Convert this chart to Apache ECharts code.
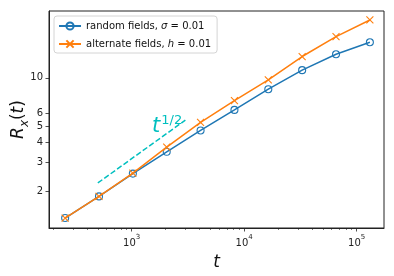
<!DOCTYPE html>
<html>
<head>
<meta charset="utf-8">
<script src="https://cdn.jsdelivr.net/npm/echarts@6/dist/echarts.min.js"></script>
<style>
html,body{margin:0;padding:0;background:#fff;}
#c{width:394px;height:276px;}
</style>
</head>
<body>
<div id="c"></div>
<script>
// ---- data ----
var times = [256, 512, 1024, 2048, 4096, 8192, 16384, 32768, 65536, 131072];
var randomVals = [1.36, 1.85, 2.56, 3.49, 4.73, 6.34, 8.51, 11.16, 14.0, 16.6];
var alternateVals = [1.36, 1.85, 2.58, 3.73, 5.30, 7.24, 9.72, 13.55, 18.0, 22.8];
var guideTimes = [500, 3000];
var guideVals = [2.24, 5.48];
var seriesNames = ['random fields, σ = 0.01', 'alternate fields, h = 0.01'];
var yTickVals = [2, 3, 4, 5, 6, 10];
var xMajorTicks = [1000, 10000, 100000];
var xMinorTicks = [200,300,400,500,600,700,800,900,2000,3000,4000,5000,6000,7000,8000,9000,20000,30000,40000,50000,60000,70000,80000,90000];

function pairs(xs, ys){ return xs.map(function(x,i){ return [x, ys[i]]; }); }

var FONT = 'DejaVu Sans';
var AX = '#222';
var chart = echarts.init(document.getElementById('c'), null, {renderer:'canvas'});
var xMin = 184, xMax = 175000, yMin = 1.18, yMax = 25.9;

chart.setOption({
  animation: false,
  backgroundColor: '#fff',
  textStyle: {fontFamily: FONT},
  grid: {left: 49, right: 10, top: 11, bottom: 48, containLabel: false, outerBoundsMode: 'none',
    show: true, borderColor: AX, borderWidth: 1, backgroundColor: 'transparent'},
  legend: {
    data: seriesNames,
    orient: 'vertical',
    left: 54, top: 16,
    padding: [5, 6, 4, 4],
    itemWidth: 22, itemHeight: 9, itemGap: 8,
    borderColor: '#d4d4d4', borderWidth: 1, borderRadius: 3,
    backgroundColor: 'rgba(255,255,255,0.85)',
    textStyle: {fontFamily: FONT, fontSize: 10, color: '#111',
      rich: {n: {fontFamily: FONT, fontSize: 10, color: '#111'}, i: {fontFamily: FONT, fontSize: 10, fontStyle: 'italic', color: '#111'}}},
    formatter: function(name){
      if (name === seriesNames[0]) return '{n|random fields, }{i|σ}{n| = 0.01}';
      return '{n|alternate fields, }{i|h}{n| = 0.01}';
    }
  },
  xAxis: [{
    type: 'log', logBase: 10, min: xMin, max: xMax, position: 'bottom',
    name: 't', nameLocation: 'middle', nameGap: 26, nameMoveOverlap: false,
    nameTextStyle: {fontFamily: FONT, fontSize: 17, fontStyle: 'italic', color: '#111'},
    axisLine: {show: true, lineStyle: {color: AX, width: 1}},
    axisTick: {show: true, length: 3.5, inside: false, lineStyle: {color: AX, width: 0.8}, customValues: xMajorTicks},
    axisLabel: {show: true, margin: 6, color: '#222', fontSize: 10, fontFamily: FONT, customValues: xMajorTicks,
      formatter: function(v){ return '{m|10}{s|' + Math.round(Math.log10(v)) + '}'; },
      rich: {m: {fontSize: 10, fontFamily: FONT, color: '#222', lineHeight: 14, verticalAlign: 'bottom'},
             s: {fontSize: 7, fontFamily: FONT, color: '#222', lineHeight: 14, verticalAlign: 'top'}}},
    splitLine: {show: false}, minorTick: {show: false}
  }, {
    type: 'log', logBase: 10, min: xMin, max: xMax, position: 'bottom',
    axisLine: {show: false},
    axisTick: {show: true, length: 2, lineStyle: {color: AX, width: 0.6}, customValues: xMinorTicks},
    axisLabel: {show: false}, splitLine: {show: false}
  }],
  yAxis: {
    type: 'log', logBase: 10, min: yMin, max: yMax,
    name: '{i|R}{sub|x}{n|(}{i|t}{n|)}', nameLocation: 'middle', nameGap: 18, nameRotate: 90, nameMoveOverlap: false,
    nameTextStyle: {fontFamily: FONT, fontSize: 17, color: '#111',
      rich: {i: {fontFamily: FONT, fontSize: 17, fontStyle: 'italic', color: '#111', lineHeight: 24, verticalAlign: 'middle'},
             n: {fontFamily: FONT, fontSize: 17, color: '#111', lineHeight: 24, verticalAlign: 'middle'},
             sub: {fontFamily: FONT, fontSize: 12, fontStyle: 'italic', color: '#111', lineHeight: 24, verticalAlign: 'bottom'}}},
    axisLine: {show: true, lineStyle: {color: AX, width: 1}},
    axisTick: {show: true, length: 3.5, lineStyle: {color: AX, width: 0.8}, customValues: yTickVals},
    axisLabel: {show: true, margin: 6, color: '#222', fontSize: 10, fontFamily: FONT, customValues: yTickVals,
      formatter: function(v){ return String(Math.round(v)); }},
    splitLine: {show: false}, minorTick: {show: false}
  },
  series: [{
    name: seriesNames[0], type: 'line', data: pairs(times, randomVals),
    symbol: 'circle', symbolSize: 7,
    lineStyle: {color: '#1f77b4', width: 1.5},
    itemStyle: {color: 'rgba(255,255,255,0)', borderColor: '#1f77b4', borderWidth: 1.1},
    z: 3
  }, {
    name: seriesNames[1], type: 'line', data: pairs(times, alternateVals),
    symbol: 'path://M0,0L10,10M10,0L0,10', symbolSize: 7,
    lineStyle: {color: '#ff7f0e', width: 1.5},
    itemStyle: {color: 'rgba(255,255,255,0)', borderColor: '#ff7f0e', borderWidth: 1.1},
    z: 4
  }, {
    name: 'guide', type: 'line', data: pairs(guideTimes, guideVals),
    symbol: 'none', lineStyle: {color: '#00bfbf', width: 1.5, type: [5.5, 2.4]}, z: 2
  }],
  graphic: [{
    type: 'text', left: 152, top: 111, z: 10,
    style: {text: '{t|t}{s|1/2}', fill: '#00bfbf',
      rich: {t: {fontFamily: FONT, fontSize: 21, fontStyle: 'italic', fill: '#00bfbf', lineHeight: 26, verticalAlign: 'bottom'},
             s: {fontFamily: FONT, fontSize: 13, fill: '#00bfbf', lineHeight: 26, verticalAlign: 'top', padding: [3, 0, 0, 1]}}}
  }]
});
</script>
</body>
</html>
